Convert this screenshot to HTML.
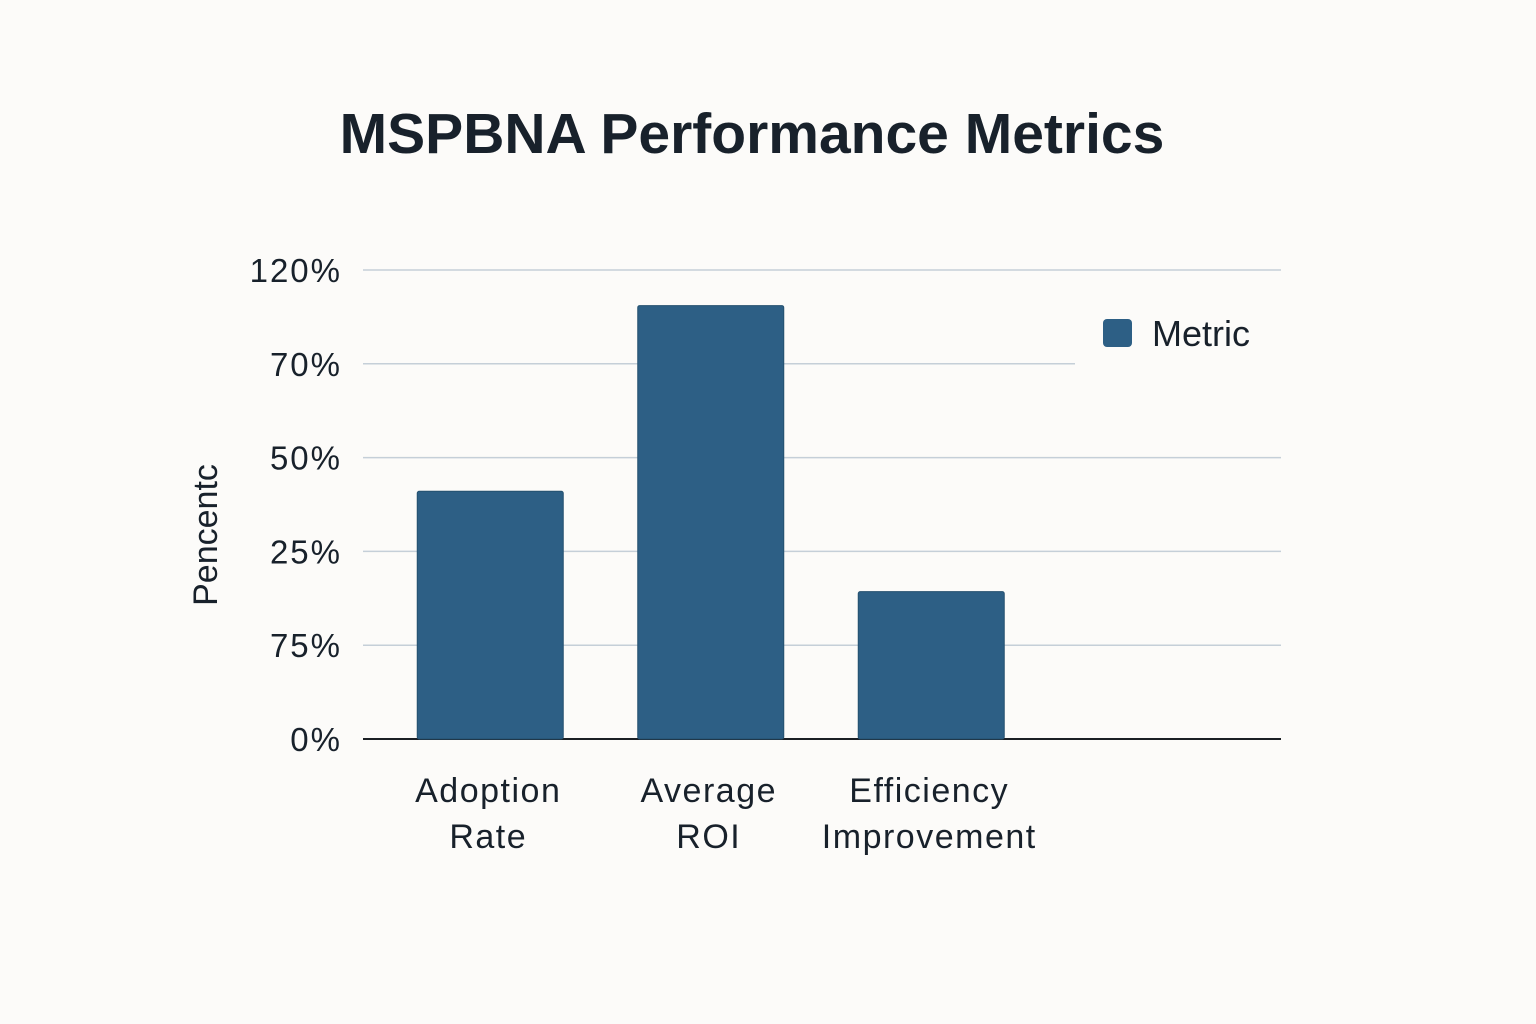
<!DOCTYPE html>
<html><head><meta charset="utf-8"><style>
html,body{margin:0;padding:0;background:#fcfbf9;}
svg{display:block;font-family:"Liberation Sans",sans-serif;}
</style></head><body>
<svg id="chart" width="1536" height="1024" viewBox="0 0 1536 1024">
<rect width="1536" height="1024" fill="#fcfbf9"/>
<text x="752" y="153" text-anchor="middle" font-size="57" font-weight="bold" fill="#18212b">MSPBNA Performance Metrics</text>
<text transform="translate(217,535) rotate(-90)" text-anchor="middle" font-size="34" fill="#18212b">Pencentc</text>
<g id="grid"></g><g id="bars"></g><g id="labels"></g>
<rect x="1075" y="300" width="215" height="72" fill="#fcfbf9"/>
<rect x="1103" y="319" width="29" height="28" rx="4" fill="#2d5f85"/>
<text x="1152" y="346" font-size="36" fill="#18212b">Metric</text>
</svg>
<script>
const categories = [["Adoption","Rate"],["Average","ROI"],["Efficiency","Improvement"]];
const values = [63.4, 110.9, 37.7];
const tickValues = [0, 24, 48, 72, 96, 120];
const tickLabels = ["0%", "75%", "25%", "50%", "70%", "120%"];
const NS="http://www.w3.org/2000/svg";
const y0=739, y1=270, vmax=120;
function yScale(v){return y0-(v/vmax)*(y0-y1);}
const bx0=380, step=220.5, bw=146;
function xCenter(i){return bx0+step*(i+0.5);}
const grid=document.getElementById('grid');
tickValues.forEach((t,i)=>{
  const y=yScale(t);
  const l=document.createElementNS(NS,'line');
  l.setAttribute('x1',363);l.setAttribute('x2',1281);l.setAttribute('y1',y);l.setAttribute('y2',y);
  l.setAttribute('stroke',i===0?'#1b1f24':'#c5cfd8');l.setAttribute('stroke-width',i===0?2:1.5);
  
  
  grid.appendChild(l);
  const tx=document.createElementNS(NS,'text');
  tx.setAttribute('x',342);tx.setAttribute('y',y+12);tx.setAttribute('text-anchor','end');
  tx.setAttribute('font-size','33');tx.setAttribute('fill','#18212b');tx.setAttribute('letter-spacing','2');
  tx.textContent=tickLabels[i];
  
  
  grid.appendChild(tx);
});
const bars=document.getElementById('bars'), labels=document.getElementById('labels');
values.forEach((v,i)=>{
  const r=document.createElementNS(NS,'rect');
  const y=yScale(v);
  r.setAttribute('x',xCenter(i)-bw/2);r.setAttribute('y',y);r.setAttribute('width',bw);r.setAttribute('height',y0-y);
  r.setAttribute('fill','#2d5f85');r.setAttribute('stroke','#24506f');r.setAttribute('stroke-width','1');r.setAttribute('rx','2');
  
  
  bars.appendChild(r);
  categories[i].forEach((line,j)=>{
    const t=document.createElementNS(NS,'text');
    t.setAttribute('x',xCenter(i)-2);t.setAttribute('y',802+j*46);t.setAttribute('text-anchor','middle');
    t.setAttribute('font-size','34');t.setAttribute('fill','#18212b');t.setAttribute('letter-spacing','1.5');
    t.textContent=line;
    
    
    labels.appendChild(t);
  });
});
</script>
</body></html>
